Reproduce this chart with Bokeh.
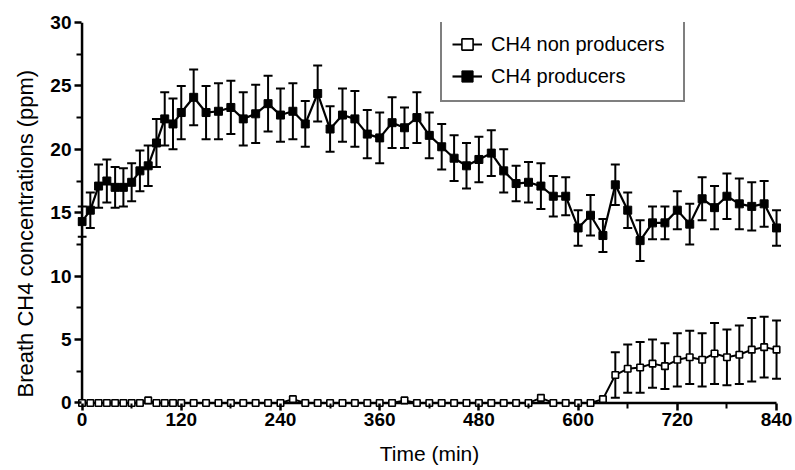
import numpy as np
from bokeh.plotting import figure
from bokeh.models import (Range1d, FixedTicker, Whisker, TeeHead, ColumnDataSource,
                          Legend, LegendItem, Title)
from bokeh.embed import file_html
from bokeh.resources import INLINE

# ---- data ----
time_min = [0, 10, 20, 30, 40, 50, 60, 70, 80, 90, 100, 110, 120,
            135, 150, 165, 180, 195, 210, 225, 240, 255, 270, 285, 300,
            315, 330, 345, 360, 375, 390, 405, 420, 435, 450, 465, 480,
            495, 510, 525, 540, 555, 570, 585, 600, 615, 630, 645, 660,
            675, 690, 705, 720, 735, 750, 765, 780, 795, 810, 825, 840]

producers = [14.3, 15.2, 17.1, 17.5, 17.0, 17.0, 17.4, 18.3, 18.7, 20.5, 22.4, 22.0, 22.9,
             24.1, 22.9, 23.0, 23.3, 22.4, 22.8, 23.6, 22.7, 23.0, 22.0, 24.4, 21.6,
             22.7, 22.4, 21.2, 20.9, 22.1, 21.7, 22.5, 21.1, 20.2, 19.3, 18.7, 19.2,
             19.7, 18.3, 17.3, 17.4, 17.1, 16.3, 16.3, 13.8, 14.8, 13.2, 17.2, 15.2,
             12.8, 14.2, 14.2, 15.2, 14.1, 16.1, 15.4, 16.3, 15.7, 15.5, 15.7, 13.8]

producers_sem = [1.2, 1.4, 1.7, 1.7, 1.6, 1.5, 1.5, 1.6, 1.6, 1.9, 2.1, 2.0, 2.1,
                 2.2, 2.1, 2.2, 2.1, 2.1, 2.3, 2.2, 2.1, 2.2, 1.8, 2.2, 1.8,
                 2.1, 2.2, 1.9, 2.0, 2.0, 1.6, 2.0, 1.8, 1.8, 1.8, 1.8, 1.8,
                 1.8, 1.7, 1.4, 1.6, 1.8, 1.6, 1.5, 1.4, 1.6, 1.3, 1.6, 1.4,
                 1.6, 1.3, 1.3, 1.5, 1.6, 1.7, 1.7, 1.8, 2.0, 1.9, 1.8, 1.4]

non_producers = [0, 0, 0, 0, 0, 0, 0, 0, 0.2, 0, 0, 0, 0,
                 0, 0, 0, 0, 0, 0, 0, 0, 0.3, 0, 0, 0,
                 0, 0, 0, 0, 0, 0.2, 0, 0, 0, 0, 0, 0,
                 0, 0, 0, 0, 0.4, 0, 0, 0, 0, 0.3, 2.2, 2.7,
                 2.8, 3.1, 2.9, 3.4, 3.6, 3.4, 3.9, 3.6, 3.8, 4.2, 4.4, 4.2]

non_producers_sem = [0, 0, 0, 0, 0, 0, 0, 0, 0, 0, 0, 0, 0,
                     0, 0, 0, 0, 0, 0, 0, 0, 0, 0, 0, 0,
                     0, 0, 0, 0, 0, 0, 0, 0, 0, 0, 0, 0,
                     0, 0, 0, 0, 0, 0, 0, 0, 0, 0, 1.8, 1.9,
                     2.0, 1.9, 1.8, 2.1, 2.1, 2.1, 2.4, 2.2, 2.3, 2.5, 2.4, 2.3]

x_ticks = [0, 120, 240, 360, 480, 600, 720, 840]
x_minor_ticks = [60, 180, 300, 420, 540, 660, 780]
y_ticks = [0, 5, 10, 15, 20, 25, 30]
y_minor_ticks = [2.5, 7.5, 12.5, 17.5, 22.5, 27.5]

x_label = "Time (min)"
y_label = "Breath CH4 concentrations (ppm)"
label_non = "CH4 non producers"
label_prod = "CH4 producers"

# ---- sources ----
t = np.array(time_min, dtype=float)
pv = np.array(producers); pe = np.array(producers_sem)
nv = np.array(non_producers); ne = np.array(non_producers_sem)

src_p = ColumnDataSource(dict(x=t, y=pv, lo=pv - pe, hi=pv + pe))
src_n = ColumnDataSource(dict(x=t, y=nv))
mask = ne > 0
src_ne = ColumnDataSource(dict(x=t[mask], lo=(nv - ne)[mask], hi=(nv + ne)[mask]))

FONT = "Liberation Sans"

p = figure(width=795, height=470, output_backend="svg", toolbar_location=None,
           x_range=Range1d(-5.5, 846), y_range=Range1d(-0.36, 30),
           min_border_left=77, min_border_right=14, min_border_top=22, min_border_bottom=63)
p.outline_line_color = None
p.grid.visible = False
p.background_fill_color = "white"
p.border_fill_color = "white"

for ax, ticks, minor in ((p.xaxis, x_ticks, x_minor_ticks),
                         (p.yaxis, y_ticks, y_minor_ticks)):
    ax.ticker = FixedTicker(ticks=ticks, minor_ticks=minor)
    ax.axis_line_color = None
    ax.major_tick_line_width = 2.5
    ax.major_tick_line_color = "black"
    ax.minor_tick_line_width = 2
    ax.minor_tick_line_color = "black"
    ax.major_label_text_font = FONT
    ax.major_label_text_font_style = "bold"
    ax.major_label_text_font_size = "19px"
    ax.major_label_text_color = "black"
    ax.axis_label_text_font = FONT
    ax.axis_label_text_font_style = "normal"
    ax.axis_label_text_font_size = "21px"
    ax.axis_label_text_color = "black"

# ticks start at the zero lines (frame edge lies ~4.5px outside them)
p.xaxis.major_tick_in = 4
p.xaxis.major_tick_out = 3
p.xaxis.minor_tick_in = 4
p.xaxis.minor_tick_out = 1
p.yaxis.major_tick_in = 4
p.yaxis.major_tick_out = 3
p.yaxis.minor_tick_in = 4
p.yaxis.minor_tick_out = 1

p.xaxis.axis_label = x_label
p.xaxis.major_label_standoff = 2
p.xaxis.axis_label_standoff = 13
p.yaxis.major_label_standoff = 3

# y axis title: a side title, aligned to the bottom of the frame
ytitle = Title(text=y_label, align="left", offset=10, standoff=19,
               text_font=FONT, text_font_size="22px", text_font_style="normal",
               text_color="black")
p.add_layout(ytitle, "left")

# axis lines drawn at the zero positions, spanning the tick extent
p.segment(x0=[x_ticks[0]], y0=[y_ticks[0]], x1=[x_ticks[-1]], y1=[y_ticks[0]],
          line_color="black", line_width=2.5)
p.segment(x0=[x_ticks[0]], y0=[y_ticks[0]], x1=[x_ticks[0]], y1=[y_ticks[-1]],
          line_color="black", line_width=2.5)

# error bars
head_kw = dict(size=9, line_color="black", line_width=2)
wp = Whisker(source=src_p, base="x", lower="lo", upper="hi", dimension="height",
             line_color="black", line_width=2,
             lower_head=TeeHead(**head_kw), upper_head=TeeHead(**head_kw))
wn = Whisker(source=src_ne, base="x", lower="lo", upper="hi", dimension="height",
             line_color="black", line_width=2,
             lower_head=TeeHead(**head_kw), upper_head=TeeHead(**head_kw))
p.add_layout(wp)
p.add_layout(wn)

ln_p = p.line("x", "y", source=src_p, line_color="black", line_width=2.2)
sc_p = p.scatter("x", "y", source=src_p, marker="square", size=8,
                 fill_color="black", line_color="black", line_width=1)
ln_n = p.line("x", "y", source=src_n, line_color="black", line_width=2)
sc_n = p.scatter("x", "y", source=src_n, marker="square", size=6.5,
                 fill_color="white", line_color="black", line_width=1.6)

legend = Legend(items=[LegendItem(label=label_non, renderers=[ln_n, sc_n]),
                       LegendItem(label=label_prod, renderers=[ln_p, sc_p])],
                location=(363, 305))
legend.border_line_color = "black"
legend.border_line_width = 2
legend.background_fill_color = "white"
legend.background_fill_alpha = 1
legend.label_text_font = FONT
legend.label_text_font_size = "20px"
legend.label_text_color = "black"
legend.glyph_width = 30
legend.glyph_height = 28
legend.label_height = 28
legend.label_width = 182
legend.label_standoff = 9
legend.padding = 10
legend.spacing = 4
legend.margin = 0
p.add_layout(legend, "center")

open("out.html", "w").write(file_html(p, INLINE))
